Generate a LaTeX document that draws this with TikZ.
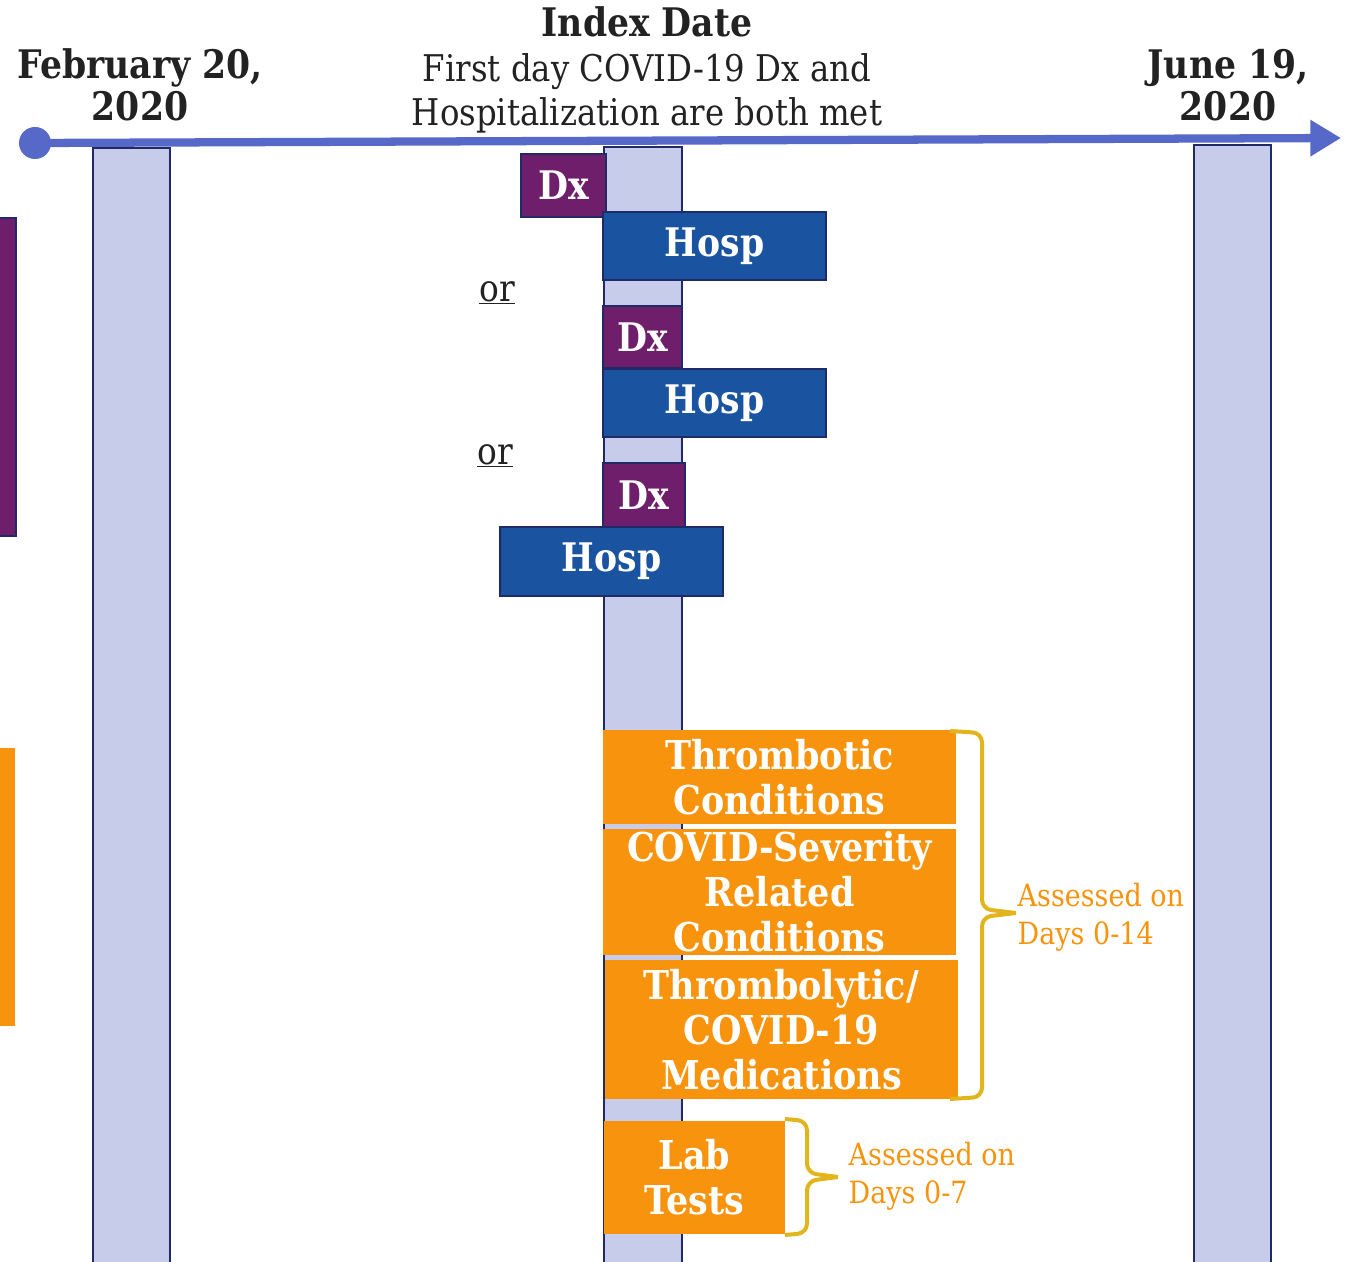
\documentclass[tikz,border=0pt]{standalone}
\usepackage{fontspec}
\setmainfont{DejaVu Serif}[FakeStretch=0.88]
\usetikzlibrary{arrows.meta}
\definecolor{axisblue}{RGB}{86,104,200}
\definecolor{barfill}{RGB}{200,204,235}
\definecolor{barline}{RGB}{31,42,102}
\definecolor{dxpurple}{RGB}{110,30,107}
\definecolor{hospblue}{RGB}{26,83,160}
\definecolor{boxorange}{RGB}{247,147,13}
\definecolor{bracegold}{RGB}{227,181,28}
\definecolor{darktext}{RGB}{34,34,34}
\begin{document}
\begin{tikzpicture}[x=0.75pt,y=-0.75pt,
  sz/.style 2 args={minimum width=#1*0.75pt, minimum height=#2*0.75pt, inner sep=0pt},
  bar/.style={draw=barline, line width=1.5pt, fill=barfill},
  dxbox/.style={draw=barline, line width=1.5pt, fill=dxpurple, text=white, font=\bfseries\fontsize{29.5}{33}\selectfont},
  hospbox/.style={draw=barline, line width=1.5pt, fill=hospblue, text=white, font=\bfseries\fontsize{29.5}{33}\selectfont},
  obox/.style={fill=boxorange, text=white, align=center, font=\bfseries\fontsize{29.8}{33.75}\selectfont},
  title/.style={align=center, text=darktext, font=\bfseries\fontsize{29.5}{31.5}\selectfont},
  ortext/.style={text=darktext, font=\fontsize{28}{30}\selectfont},
  bracestyle/.style={draw=bracegold, line width=3pt, rounded corners=7pt},
  note/.style={text=boxorange, align=left, anchor=west, font=\fontsize{23}{28.5}\selectfont}]
\useasboundingbox (0,0) rectangle (1346,1262);
\clip (0,0) rectangle (1346,1262);
% left edge strips
\draw[draw=barline, line width=1.5pt, fill=dxpurple] (-5,218) rectangle (16,536);
\fill[boxorange] (-5,748) rectangle (15,1026);
% vertical bars
\draw[bar] (93,148) rectangle (170,1270);
\draw[bar] (604,147) rectangle (682,1270);
\draw[bar] (1194,145) rectangle (1271,1270);
% timeline
\node[circle, fill=axisblue, minimum size=24pt, inner sep=0pt] (start) at (35,143) {};
\coordinate (tip) at (1341,138);
\draw[axisblue, line width=6.2pt, -{Triangle[length=23pt,width=26pt]}] (start.center) -- (tip);
% titles
\node[title] (feb) at (140,85) {February 20,\\2020};
\node[title] (jun) at (1228,85) {June 19,\\2020};
\node[align=center, text=darktext, font=\fontsize{27.6}{33.4}\selectfont] (idx) at (647,70)
  {{\bfseries\fontsize{29.5}{33.4}\selectfont Index Date}\\First day COVID-19 Dx and\\Hospitalization are both met};
% Dx / Hosp boxes
\node[dxbox, sz={85}{63}] (dx1) at (563.5,185.5) {Dx};
\node[hospbox, sz={223}{68}] (h1) at (714.5,246) {Hosp};
\node[ortext] (or1) at (497,293) {\underline{or}};
\node[dxbox, sz={79}{62}] (dx2) at (642.5,337) {Dx};
\node[hospbox, sz={223}{68}] (h2) at (714.5,403) {Hosp};
\node[ortext] (or2) at (495,456) {\underline{or}};
\node[dxbox, sz={82}{64}] (dx3) at (644,495) {Dx};
\node[hospbox, sz={223}{69}] (h3) at (611.5,561.5) {Hosp};
% orange boxes
\node[obox, sz={353}{94}] (thr) at (779.5,777) {Thrombotic\\Conditions};
\node[obox, sz={353}{126}] (sev) at (779.5,892) {COVID-Severity\\Related\\Conditions};
\node[obox, sz={353}{139}] (med) at (781.5,1029.5) {Thrombolytic/\\COVID-19\\Medications};
\node[obox, sz={181}{113}] (lab) at (694.5,1177.5) {Lab\\Tests};
% braces
\coordinate (b1t) at (950,731);
\coordinate (b1m) at (1016,913);
\coordinate (b1b) at (950,1099);
\draw[bracestyle] (b1t) -- (982,733) -- (982,909) -- (b1m);
\draw[bracestyle] (b1m) -- (982,917) -- (982,1097) -- (b1b);
\node[note] (n1) at (1013,917) {Assessed on\\Days 0-14};
\coordinate (b2t) at (785,1119);
\coordinate (b2m) at (838,1177);
\coordinate (b2b) at (785,1235);
\draw[bracestyle] (b2t) -- (807,1121) -- (807,1173) -- (b2m);
\draw[bracestyle] (b2m) -- (807,1181) -- (807,1233) -- (b2b);
\node[note] (n2) at (844,1176) {Assessed on\\Days 0-7};
\end{tikzpicture}
\end{document}
